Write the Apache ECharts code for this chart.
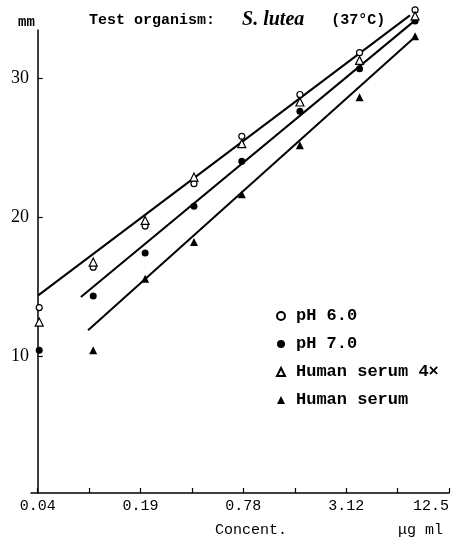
<!DOCTYPE html>
<html lang="en">
<head>
    <meta charset="UTF-8">
    <title>S. lutea zone diameter</title>
    <script type="text/javascript" src="https://cdn.jsdelivr.net/npm/echarts@6/dist/echarts.min.js"></script>
    <style>
        html, body { margin: 0; padding: 0; background: #fff; }
    </style>
</head>
<body>
    <div id="main" style="width: 466px;height:543px;"></div>
    <script type="text/javascript">
    // doubling-dilution steps (0 = 0.04 µg/ml)
    const xSteps = [0.03, 1.08, 2.09, 3.04, 3.97, 5.1, 6.26, 7.34];
    const ph60 = [13.5, 16.4, 19.35, 22.4, 25.8, 28.8, 31.8, 34.87];
    const ph70 = [10.43, 14.33, 17.42, 20.77, 24.0, 27.6, 30.65, 34.08];
    const serum4x = [12.46, 16.77, 19.76, 22.87, 25.27, 28.26, 31.25, 34.44];
    const serum = [null, 10.43, 15.58, 18.21, 21.64, 25.15, 28.61, 32.99];

    // fitted lines, [step, mm]
    const fitTop = [[0.01, 14.38], [7.24, 34.48]];
    const fitMid = [[0.84, 14.26], [7.34, 34.12]];
    const fitBottom = [[0.98, 11.87], [7.37, 33.04]];

    const tickSteps = [0, 1, 2, 3, 4, 5, 6, 7, 8];
    const labelSteps = [0, 2, 4, 6, 8];
    const labelTexts = ['0.04', '0.19', '0.78', '3.12', '12.5'];
    const yTicks = [10, 20, 30];

    const mono = 'Liberation Mono';
    const serif = 'Liberation Serif';

    function pairs(ys) {
        let out = [];
        for (let i = 0; i < ys.length; i++) {
            if (ys[i] != null) out.push([xSteps[i], ys[i]]);
        }
        return out;
    }

    function pointSeries(name, ys, symbol, filled, size) {
        return {
            name: name,
            type: 'scatter',
            data: pairs(ys),
            symbol: symbol,
            symbolSize: size,
            clip: false,
            z: 5,
            itemStyle: {
                color: filled ? '#000' : '#fff',
                borderColor: '#000',
                borderWidth: filled ? 0 : 1.2,
                opacity: 1
            }
        };
    }

    function fitSeries(pts) {
        return {
            type: 'line',
            data: pts,
            symbol: 'none',
            clip: false,
            silent: true,
            z: 2,
            lineStyle: { color: '#000', width: 2 }
        };
    }

    let myChart = echarts.init(document.getElementById('main'));

    let option = {
        backgroundColor: '#fff',
        animation: false,
        title: {
            left: 84,
            top: 5,
            text: '{a|Test organism:   }{i|S. lutea}{a|   (37°C)}',
            textStyle: {
                rich: {
                    a: { fontFamily: mono, fontSize: 15, color: '#000', fontWeight: 'bold' },
                    i: { fontFamily: serif, fontSize: 20, fontStyle: 'italic', color: '#000' }
                }
            }
        },
        grid: { left: 31, right: 17, top: 30, bottom: 50 },
        legend: {
            orient: 'vertical',
            left: 271,
            top: 302,
            itemWidth: 8,
            itemHeight: 8,
            itemGap: 10,
            data: ['pH 6.0', 'pH 7.0', 'Human serum 4×', 'Human serum'],
            textStyle: { fontFamily: mono, fontSize: 17, color: '#000', fontWeight: 'bold', lineHeight: 18, padding: [0, 0, 0, 6] }
        },
        xAxis: {
            type: 'value',
            min: -0.13,
            max: 8,
            splitLine: { show: false },
            axisLine: { lineStyle: { color: '#000', width: 1.5 } },
            axisTick: {
                inside: true,
                length: 5,
                customValues: tickSteps,
                lineStyle: { color: '#000', width: 1.2 }
            },
            axisLabel: {
                customValues: labelSteps,
                margin: 6,
                fontFamily: mono,
                fontSize: 15,
                color: '#000',
                alignMaxLabel: 'right',
                formatter: function (v) {
                    let i = labelSteps.indexOf(Math.round(v));
                    return i >= 0 ? labelTexts[i] : '';
                }
            }
        },
        yAxis: {
            type: 'value',
            min: 0.19,
            max: 33.43,
            splitLine: { show: false },
            axisLine: { lineStyle: { color: '#000', width: 1.5 } },
            axisTick: {
                inside: true,
                length: 5,
                customValues: yTicks,
                lineStyle: { color: '#000', width: 1.2 }
            },
            axisLabel: {
                customValues: yTicks,
                margin: 2,
                fontFamily: serif,
                fontSize: 18,
                color: '#000'
            }
        },
        graphic: [
            { type: 'text', left: 18, top: 15, style: { text: 'mm', fontFamily: mono, fontSize: 14, fontWeight: 'bold', fill: '#000' } },
            { type: 'text', left: 215, top: 523, style: { text: 'Concent.', fontFamily: mono, fontSize: 15, fill: '#000' } },
            { type: 'text', left: 398, top: 523, style: { text: 'μg ml', fontFamily: mono, fontSize: 15, fill: '#000' } }
        ],
        series: [
            fitSeries(fitTop),
            fitSeries(fitMid),
            fitSeries(fitBottom),
            pointSeries('pH 6.0', ph60, 'circle', false, 6),
            pointSeries('pH 7.0', ph70, 'circle', true, 7),
            pointSeries('Human serum 4×', serum4x, 'triangle', false, 8),
            pointSeries('Human serum', serum, 'triangle', true, 8)
        ]
    };

    myChart.setOption(option);
    </script>
</body>
</html>
